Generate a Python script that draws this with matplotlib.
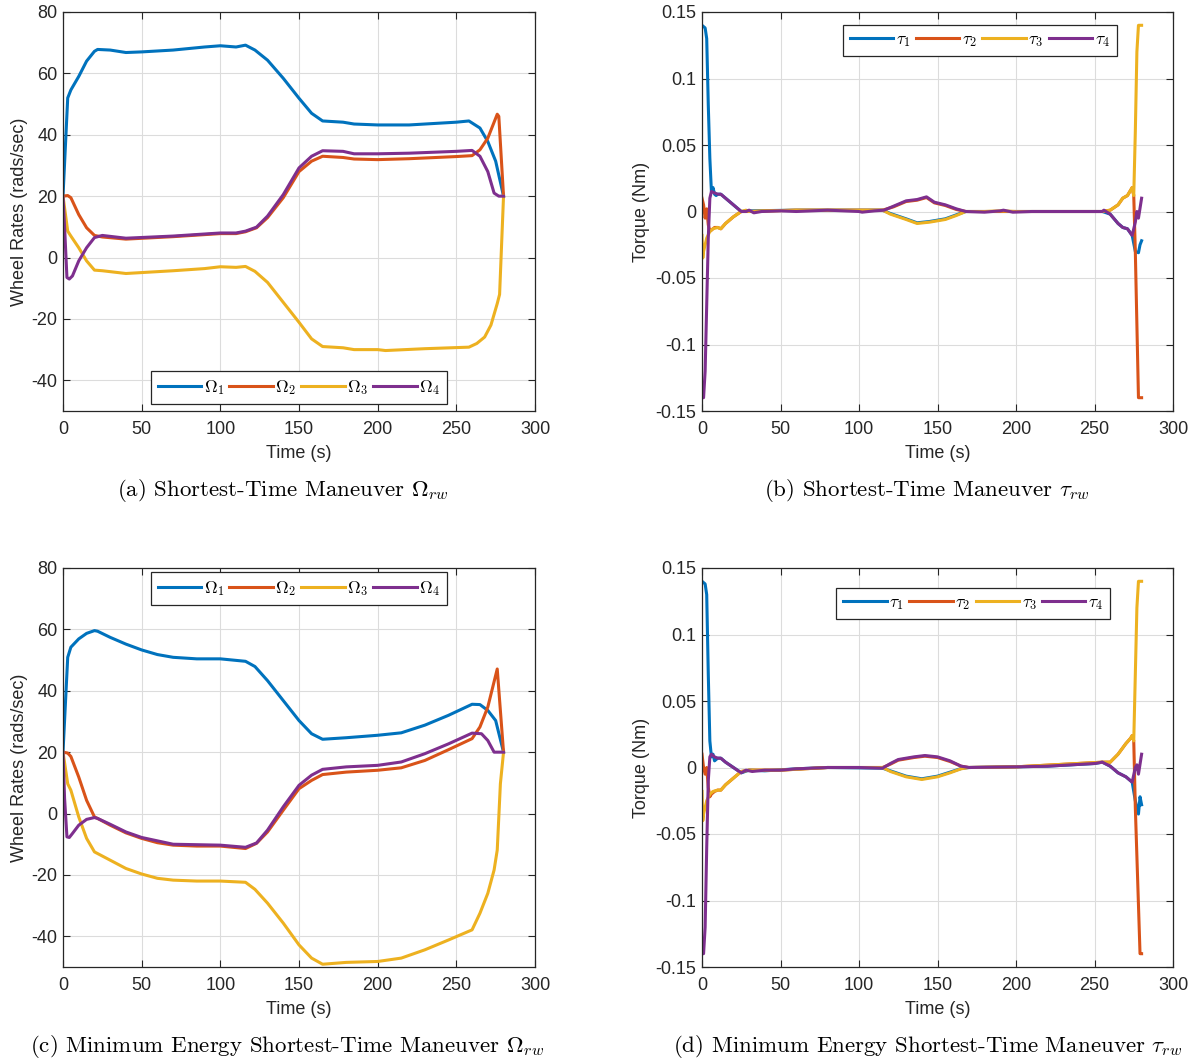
import matplotlib
matplotlib.use("Agg")
import matplotlib.pyplot as plt

# ---------------- data ----------------
# (a) Shortest-time maneuver wheel rates
a_w1_t = [0, 3, 5, 10, 15, 20, 22, 30, 40, 50, 70, 90, 100, 110, 116, 122, 130, 140, 150, 158, 165, 178, 185, 200, 220, 250, 258, 265, 270, 275, 280]
a_w1 = [20, 52, 54.6, 59, 64, 67.2, 67.8, 67.6, 66.8, 67, 67.6, 68.6, 69, 68.6, 69.2, 67.6, 64.3, 58.4, 51.9, 47, 44.5, 44.1, 43.5, 43.2, 43.2, 44.1, 44.5, 42.2, 37.8, 31.4, 20]
a_w2_t = [0, 3, 5, 10, 15, 20, 25, 40, 70, 100, 110, 116, 123, 130, 140, 150, 158, 165, 178, 185, 200, 220, 250, 260, 265, 270, 276, 277, 280]
a_w2 = [20, 20.2, 19.5, 14, 9.7, 7.2, 6.7, 6, 6.8, 7.8, 7.8, 8.4, 9.7, 13, 19.5, 28, 31.4, 33, 32.6, 32.1, 31.9, 32.2, 32.9, 33.2, 35.1, 38.9, 46.7, 46, 20]
a_w3_t = [0, 3, 5, 10, 15, 20, 25, 40, 50, 70, 90, 100, 110, 116, 122, 130, 140, 150, 158, 165, 178, 185, 200, 205, 230, 258, 263, 268, 272, 276, 277.5, 280]
a_w3 = [20, 8.6, 7, 3.2, -1.1, -4.1, -4.3, -5.2, -4.9, -4.3, -3.6, -3, -3.2, -2.9, -4.5, -8.1, -14.6, -21.1, -26.5, -29, -29.4, -30, -30, -30.3, -29.7, -29.2, -28, -25.9, -22, -15, -12, 20]
a_w4_t = [0, 1, 2.5, 4, 6, 10, 15, 20, 25, 40, 70, 100, 110, 116, 123, 130, 140, 150, 158, 165, 178, 185, 200, 220, 250, 260, 265, 270, 274, 277, 280]
a_w4 = [20, 10, -6.5, -7, -6, -1.1, 3.2, 6.5, 7.2, 6.3, 7, 8, 8, 8.6, 9.9, 13.5, 20.5, 29.2, 33, 34.8, 34.6, 33.8, 33.8, 34, 34.6, 34.9, 33, 28, 21, 20, 20]

# (c) Minimum-energy shortest-time maneuver wheel rates
c_w1_t = [0, 3, 5, 10, 15, 20, 22, 30, 40, 50, 60, 70, 85, 100, 116, 122, 130, 140, 150, 158, 165, 180, 200, 215, 230, 245, 260, 265, 270, 275, 280]
c_w1 = [20, 50.9, 54.2, 56.9, 58.7, 59.6, 59.4, 57.4, 55.2, 53.3, 51.8, 50.9, 50.4, 50.4, 49.6, 47.9, 43.3, 36.8, 30.3, 26, 24.2, 24.7, 25.5, 26.3, 28.8, 32, 35.6, 35.5, 33.6, 30.3, 20]
c_w2_t = [0, 3, 5, 10, 15, 20, 22, 30, 40, 50, 60, 70, 85, 100, 116, 123, 130, 140, 150, 158, 165, 180, 200, 215, 230, 245, 260, 265, 270, 276, 280]
c_w2 = [20, 19.7, 18.6, 11.9, 4.3, -1.1, -1.6, -3.8, -6.3, -8.1, -9.5, -10.3, -10.6, -10.6, -11.4, -9.7, -6, 1.1, 8.1, 10.8, 12.7, 13.5, 14.1, 14.9, 17.3, 20.8, 24.4, 28.2, 34.7, 47.1, 20]
c_w3_t = [0, 3, 5, 10, 15, 20, 30, 40, 50, 60, 70, 85, 100, 116, 122, 130, 140, 150, 158, 165, 180, 200, 215, 230, 245, 260, 265, 270, 274, 276, 278, 280]
c_w3 = [20, 9.7, 7.6, -1.1, -8.1, -12.5, -15.2, -17.9, -19.7, -21.1, -21.7, -22, -22, -22.4, -24.7, -29.2, -35.7, -42.8, -47.1, -49.1, -48.5, -48.2, -47.1, -44.4, -41.2, -37.9, -32.5, -26, -18.4, -11.9, 9.7, 20]
c_w4_t = [0, 1, 2.5, 4, 6, 10, 15, 20, 22, 30, 40, 50, 70, 100, 116, 123, 130, 140, 150, 158, 165, 180, 200, 215, 230, 245, 260, 266, 270, 274, 277, 280]
c_w4 = [20, 5, -7.6, -7.8, -6.5, -3.8, -1.9, -1.3, -1.6, -3.5, -6, -7.8, -10, -10.3, -11, -9.6, -5.4, 2.2, 9.2, 12.5, 14.4, 15.2, 15.7, 16.8, 19.5, 22.7, 26.2, 26, 23.8, 20, 20, 20]

# (b) Shortest-time maneuver torques
b_t1_t = [0, 2, 3, 4, 5, 6, 7, 8, 9, 10, 12, 15, 20, 25, 30, 60, 115, 120, 130, 137, 145, 155, 162, 168, 200, 255, 260, 265, 268, 271, 274, 276, 278, 279, 280]
b_t1 = [0.14, 0.138, 0.13, 0.08, 0.04, 0.015, 0.018, 0.013, 0.012, 0.013, 0.013, 0.01, 0.005, 0.0, 0.0005, 0.001, 0.001, -0.0015, -0.0055, -0.0085, -0.0075, -0.0055, -0.0025, 0.0, 0.0, 0.0, -0.002, -0.009, -0.012, -0.013, -0.018, -0.03, -0.031, -0.025, -0.022]
b_t2_t = [0, 1, 2, 3, 4, 5, 6, 8, 10, 12, 15, 20, 25, 30, 60, 115, 122, 130, 137, 140, 143, 148, 155, 162, 168, 200, 255, 260, 265, 268, 271, 273, 274, 275, 276, 278, 280]
b_t2 = [0.01, 0.005, -0.005, 0.002, -0.01, -0.015, -0.014, -0.012, -0.012, -0.013, -0.009, -0.004, 0.0, 0.0, 0.001, 0.001, 0.0035, 0.0075, 0.0085, 0.0095, 0.0105, 0.0065, 0.0045, 0.0015, 0.0, 0.0, 0.0, 0.001, 0.005, 0.01, 0.012, 0.016, 0.018, 0.012, -0.03, -0.14, -0.14]
b_t3_t = [0, 0.5, 1, 2, 3, 5, 7, 10, 12, 15, 20, 25, 28, 30, 40, 60, 115, 120, 130, 137, 145, 155, 162, 168, 180, 190, 200, 255, 260, 265, 268, 271, 273, 274, 275, 276, 277, 278, 280]
b_t3 = [-0.018, -0.035, -0.03, -0.025, -0.02, -0.015, -0.013, -0.012, -0.013, -0.009, -0.004, 0.0, 0.001, 0.0, 0.0005, 0.001, 0.001, -0.002, -0.006, -0.009, -0.008, -0.006, -0.003, 0.0, 0.0, 0.0005, 0.0, 0.0, 0.001, 0.005, 0.01, 0.012, 0.016, 0.018, 0.012, 0.06, 0.12, 0.14, 0.14]
b_t4_t = [0, 1, 2, 3, 4, 5, 6, 8, 10, 12, 15, 20, 25, 28, 30, 33, 38, 50, 60, 80, 100, 102, 110, 116, 122, 130, 137, 140, 143, 148, 155, 162, 168, 180, 190, 192, 198, 210, 255, 256, 260, 265, 268, 271, 274, 276, 277, 278, 280]
b_t4 = [-0.14, -0.14, -0.12, -0.07, -0.02, 0.01, 0.015, 0.014, 0.013, 0.013, 0.01, 0.005, 0.0, 0.0, 0.001, -0.001, 0.0, 0.0005, 0.0, 0.001, 0.0, -0.0005, 0.0005, 0.001, 0.004, 0.008, 0.009, 0.01, 0.011, 0.007, 0.005, 0.002, 0.0, -0.0005, 0.0005, 0.001, -0.0005, 0.0, 0.0, 0.001, -0.002, -0.009, -0.012, -0.013, -0.018, -0.008, 0.0, -0.005, 0.01]

# (d) Minimum-energy shortest-time maneuver torques
d_t1_t = [0, 2, 3, 4, 5, 6, 7, 8, 10, 12, 15, 20, 25, 30, 40, 60, 80, 115, 120, 130, 140, 150, 158, 165, 170, 200, 220, 235, 250, 255, 260, 265, 270, 274, 276, 278, 279, 280]
d_t1 = [0.14, 0.138, 0.13, 0.07, 0.02, 0.008, 0.01, 0.005, 0.007, 0.007, 0.004, 0.0, -0.004, -0.002, -0.0025, -0.001, 0.0, -0.0005, -0.0025, -0.0065, -0.0085, -0.0065, -0.0035, -0.0008, 0.0, 0.0005, 0.001, 0.002, 0.003, 0.004, 0.001, -0.004, -0.007, -0.011, -0.025, -0.035, -0.022, -0.028]
d_t2_t = [0, 1, 2, 3, 4, 5, 6, 8, 10, 12, 15, 20, 25, 30, 50, 80, 115, 120, 125, 135, 142, 150, 158, 165, 170, 200, 255, 260, 265, 270, 273, 274, 275, 276, 279, 280]
d_t2 = [0.01, 0.0, -0.005, 0.0, -0.015, -0.022, -0.02, -0.018, -0.017, -0.017, -0.013, -0.008, -0.003, -0.002, -0.002, 0.0, 0.0, 0.0025, 0.0055, 0.0075, 0.0085, 0.0075, 0.0045, 0.001, 0.0, 0.0005, 0.004, 0.004, 0.01, 0.018, 0.022, 0.024, 0.02, -0.03, -0.14, -0.14]
d_t3_t = [0, 0.5, 1, 2, 3, 5, 7, 10, 12, 15, 20, 25, 30, 50, 80, 115, 120, 130, 140, 150, 158, 165, 170, 200, 255, 260, 265, 270, 273, 274, 275, 276, 277, 278, 280]
d_t3 = [-0.018, -0.04, -0.035, -0.03, -0.025, -0.02, -0.018, -0.017, -0.017, -0.013, -0.008, -0.003, -0.002, -0.002, 0.0, 0.0, -0.003, -0.007, -0.009, -0.007, -0.004, -0.001, 0.0, 0.0005, 0.004, 0.004, 0.01, 0.018, 0.022, 0.024, 0.02, 0.07, 0.12, 0.14, 0.14]
d_t4_t = [0, 1, 2, 3, 4, 5, 6, 8, 10, 12, 15, 20, 25, 28, 32, 40, 50, 60, 70, 80, 100, 115, 120, 125, 135, 142, 150, 158, 165, 170, 200, 220, 235, 250, 255, 260, 265, 270, 274, 276, 277, 278, 280]
d_t4 = [-0.14, -0.14, -0.12, -0.06, -0.01, 0.008, 0.01, 0.008, 0.007, 0.007, 0.004, 0.0, -0.004, -0.002, -0.003, -0.002, -0.002, -0.001, -0.0005, 0.0, 0.0, -0.0005, 0.003, 0.006, 0.008, 0.009, 0.008, 0.005, 0.001, 0.0, 0.0005, 0.001, 0.002, 0.003, 0.004, 0.001, -0.004, -0.007, -0.011, 0.0, 0.002, -0.005, 0.01]

omega_labels = [r'$\Omega_{\mathsf{1}}$', r'$\Omega_{\mathsf{2}}$', r'$\Omega_{\mathsf{3}}$', r'$\Omega_{\mathsf{4}}$']
tau_labels = [r'$\tau_{\mathsf{1}}$', r'$\tau_{\mathsf{2}}$', r'$\tau_{\mathsf{3}}$', r'$\tau_{\mathsf{4}}$']
x_ticks = [0, 50, 100, 150, 200, 250, 300]
w_ticks = [-40, -20, 0, 20, 40, 60, 80]
tq_ticks = [-0.15, -0.1, -0.05, 0, 0.05, 0.1, 0.15]
tq_ticklabels = ['-0.15', '-0.1', '-0.05', '0', '0.05', '0.1', '0.15']
captions = [r'(a) Shortest-Time Maneuver $\Omega_{rw}$',
            r'(b) Shortest-Time Maneuver $\tau_{rw}$',
            r'(c) Minimum Energy Shortest-Time Maneuver $\Omega_{rw}$',
            r'(d) Minimum Energy Shortest-Time Maneuver $\tau_{rw}$']

# ---------------- style ----------------
plt.rcParams['font.family'] = ['Liberation Sans', 'DejaVu Sans']
plt.rcParams['mathtext.fontset'] = 'cm'
plt.rcParams['axes.unicode_minus'] = False
colors = ['#0072BD', '#D95319', '#EDB120', '#7E2F8E']
dark = '#262626'
FS = 13

fig = plt.figure(figsize=(11.94, 10.61), dpi=100)
W, H = 1194, 1061


def make_ax(l, r, t, b):
    return fig.add_axes([l / W, 1 - b / H, (r - l) / W, (b - t) / H])


ax_a = make_ax(63, 535, 12, 411)
ax_b = make_ax(702, 1173, 12, 411)
ax_c = make_ax(63, 535, 568, 967)
ax_d = make_ax(702, 1173, 568, 967)


def style(ax):
    ax.set_xlim(0, 300)
    ax.set_xticks(x_ticks)
    ax.grid(True, color='#dcdcdc', linewidth=0.8)
    ax.set_axisbelow(True)
    ax.tick_params(direction='in', top=True, right=True, length=5, width=0.8,
                   colors=dark, labelsize=FS, labelcolor=dark)
    ax.tick_params(axis='x', pad=7)
    ax.tick_params(axis='y', pad=4)
    for s in ax.spines.values():
        s.set_color(dark)
        s.set_linewidth(0.9)
    ax.set_xlabel('Time (s)', fontsize=FS, color=dark, labelpad=5)


lw = 2.2
series_a = [(a_w1_t, a_w1), (a_w2_t, a_w2), (a_w3_t, a_w3), (a_w4_t, a_w4)]
series_c = [(c_w1_t, c_w1), (c_w2_t, c_w2), (c_w3_t, c_w3), (c_w4_t, c_w4)]
series_b = [(b_t1_t, b_t1), (b_t2_t, b_t2), (b_t3_t, b_t3), (b_t4_t, b_t4)]
series_d = [(d_t1_t, d_t1), (d_t2_t, d_t2), (d_t3_t, d_t3), (d_t4_t, d_t4)]

for ax, series, labels, kind in [(ax_a, series_a, omega_labels, 'w'), (ax_c, series_c, omega_labels, 'w'),
                                 (ax_b, series_b, tau_labels, 't'), (ax_d, series_d, tau_labels, 't')]:
    for (t, v), c, lab in zip(series, colors, labels):
        ax.plot(t, v, color=c, lw=lw, label=lab, solid_joinstyle='round')
    style(ax)
    if kind == 'w':
        ax.set_ylim(-50, 80)
        ax.set_yticks(w_ticks)
        ax.set_ylabel('Wheel Rates (rads/sec)', fontsize=FS, color=dark)
        ax.yaxis.set_label_coords(-0.075, 0.5)
    else:
        ax.set_ylim(-0.15, 0.15)
        ax.set_yticks(tq_ticks)
        ax.set_yticklabels(tq_ticklabels)
        ax.set_ylabel('Torque (Nm)', fontsize=FS, color=dark)
        ax.yaxis.set_label_coords(-0.11, 0.5)


def legend(ax, loc, anchor):
    lg = ax.legend(loc=loc, bbox_to_anchor=anchor, ncol=4, fontsize=12.5, handlelength=2.5,
                   handletextpad=0.15, columnspacing=0.3, borderpad=0.4, fancybox=False,
                   framealpha=1, edgecolor=dark, borderaxespad=0)
    lg.get_frame().set_linewidth(0.9)
    return lg


legend(ax_a, 'lower center', (0.5, 0.018))
legend(ax_c, 'upper center', (0.5, 0.99))
legend(ax_b, 'upper center', (0.59, 0.967))
legend(ax_d, 'upper center', (0.576, 0.95))

cap_pos = [(283, 491), (927, 491), (287, 1047), (928, 1047)]
for (x, y), txt in zip(cap_pos, captions):
    fig.text(x / W, 1 - y / H, txt, ha='center', va='center', fontsize=16.5,
             family='cmr10', color='black')

fig.savefig('out.png', dpi=100)
